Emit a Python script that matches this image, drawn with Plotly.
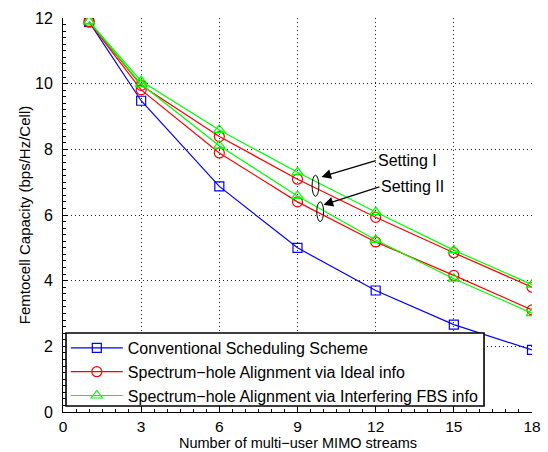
import plotly.graph_objects as go

x_vals = [1, 3, 6, 9, 12, 15, 18]
conventional = [11.88, 9.48, 6.87, 5.00, 3.70, 2.66, 1.89]
ideal_I = [11.88, 9.95, 8.39, 7.09, 5.93, 4.85, 3.80]
ideal_II = [11.88, 9.81, 7.89, 6.40, 5.18, 4.16, 3.11]
fbs_I = [11.90, 10.08, 8.59, 7.30, 6.09, 4.93, 3.88]
fbs_II = [11.90, 9.98, 8.11, 6.58, 5.24, 4.06, 3.01]

x_ticks = [0, 3, 6, 9, 12, 15, 18]
y_ticks = [0, 2, 4, 6, 8, 10, 12]

names = ["Conventional Scheduling Scheme",
         "Spectrum\u2212hole Alignment via Ideal info",
         "Spectrum\u2212hole Alignment via Interfering FBS info"]
x_title = "Number of multi\u2212user MIMO streams"
y_title = "Femtocell Capacity (bps/Hz/Cell)"

FONT = "Liberation Sans, Arial, Helvetica, sans-serif"
fig = go.Figure()

def add(y, color, symbol, name, show, size):
    fig.add_trace(go.Scatter(
        x=x_vals, y=y, mode="lines+markers", name=name, showlegend=show,
        line=dict(color=color, width=1.2),
        marker=dict(symbol=symbol, size=size, color=color,
                    line=dict(color=color, width=1.2)),
    ))

add(conventional, "#0000ff", "square-open", names[0], True, 9)
add(ideal_I, "#ff0000", "circle-open", names[1], True, 10)
add(fbs_I, "#00ff00", "triangle-up-open", names[2], True, 10)
add(ideal_II, "#ff0000", "circle-open", names[1], False, 10)
add(fbs_II, "#00ff00", "triangle-up-open", names[2], False, 10)

# ellipses marking settings
fig.add_shape(type="circle", xref="x", yref="y", x0=9.56, x1=9.82, y0=6.57, y1=7.21,
              line=dict(color="black", width=1))
fig.add_shape(type="circle", xref="x", yref="y", x0=9.74, x1=10.0, y0=5.80, y1=6.40,
              line=dict(color="black", width=1))

# legend box (white background + border), legend itself drawn on top
fig.add_shape(type="rect", xref="paper", yref="paper", x0=0.0064, x1=0.8977, y0=0.0152, y1=0.2005,
              layer="above", fillcolor="white", line=dict(color="black", width=1.6))

# arrows
fig.add_annotation(x=9.92, y=7.16, ax=12.06, ay=7.67, xref="x", yref="y", axref="x", ayref="y",
                   text="", showarrow=True, arrowhead=2, arrowsize=1.6, arrowwidth=1.2, arrowcolor="black")
fig.add_annotation(x=10.0, y=6.31, ax=12.2, ay=6.87, xref="x", yref="y", axref="x", ayref="y",
                   text="", showarrow=True, arrowhead=2, arrowsize=1.6, arrowwidth=1.2, arrowcolor="black")
fig.add_annotation(x=12.0, y=7.67, xref="x", yref="y", text="Setting I", showarrow=False,
                   xanchor="left", yanchor="middle", font=dict(family=FONT, size=16, color="black"))
fig.add_annotation(x=12.14, y=6.87, xref="x", yref="y", text="Setting II", showarrow=False,
                   xanchor="left", yanchor="middle", font=dict(family=FONT, size=16, color="black"))

# x-axis title
fig.add_annotation(x=0.5, y=-0.0787, xref="paper", yref="paper", text=x_title, showarrow=False,
                   xanchor="center", yanchor="middle", borderpad=0,
                   font=dict(family=FONT, size=14.5, color="black"))

GRID_DASH = "1px,3px"
fig.update_layout(
    width=548, height=452,
    margin=dict(l=63, r=16, t=18, b=40, autoexpand=False),
    paper_bgcolor="white", plot_bgcolor="white",
    font=dict(family=FONT, size=15, color="black"),
    legend=dict(x=0.006, y=-0.0025, xanchor="left", yanchor="bottom",
                bgcolor="rgba(0,0,0,0)", borderwidth=0,
                font=dict(family=FONT, size=16), tracegroupgap=0, itemwidth=52),
    xaxis=dict(range=[0, 18], tickvals=x_ticks, ticks="inside", ticklen=5, tickcolor="black",
               showline=True, linecolor="black", linewidth=1, mirror=False, automargin=False,
               showgrid=True, gridcolor="#222222", griddash=GRID_DASH, gridwidth=1, zeroline=False,
               minor=dict(ticks="inside", ticklen=3, dtick=0.5, tickcolor="black", showgrid=False),
               tickfont=dict(size=15.5), ticklabelstandoff=0),
    yaxis=dict(range=[0, 12], tickvals=y_ticks, ticks="inside", ticklen=5, tickcolor="black",
               showline=True, linecolor="black", linewidth=1, mirror=False, automargin=False,
               showgrid=True, gridcolor="#222222", griddash=GRID_DASH, gridwidth=1, zeroline=False,
               minor=dict(ticks="inside", ticklen=3, dtick=0.2, tickcolor="black", showgrid=False),
               title=dict(text=y_title, font=dict(size=15), standoff=0),
               tickfont=dict(size=16), ticklabelstandoff=6),
)

fig.write_html("out.html", config={"displayModeBar": False},
               post_script="document.body.style.margin='0';document.body.style.padding='0';")
